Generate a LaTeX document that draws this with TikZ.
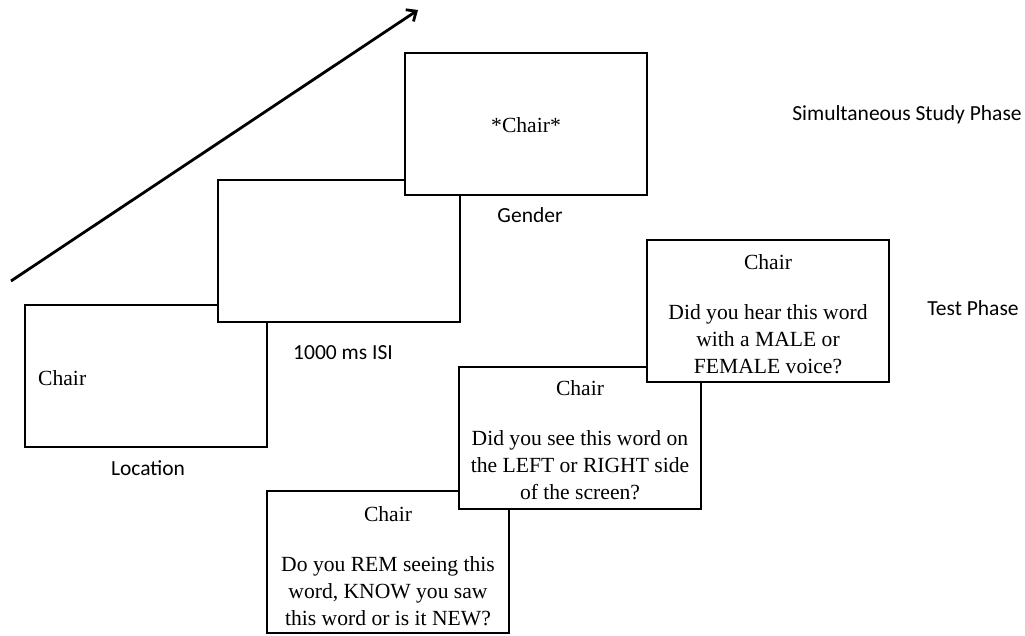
\documentclass[tikz,border=0pt]{standalone}
\usepackage{fontspec}
\setmainfont{Liberation Serif}
\newfontfamily\calib{Carlito}
\usetikzlibrary{arrows.meta}
\begin{document}
\begin{tikzpicture}[x=1pt,y=-1pt,
  screen/.style={draw=black,line width=1.5pt,fill=white,anchor=north west,
    minimum width=242pt,minimum height=142pt,inner sep=0pt,outer sep=0pt},
  serif/.style={font=\fontsize{21.6}{27}\selectfont,inner sep=0pt,align=center},
  sans/.style={font=\calib\fontsize{21.5}{25}\selectfont,inner sep=0pt}]
\useasboundingbox (0,0) rectangle (1025,636);
% study phase screens
\node[screen] (boxA) at (25,305) {};
\node[screen] (boxB) at (218,180) {};
\node[screen] (boxC) at (405,53) {};
% test phase screens
\node[screen] (boxF) at (267,491) {};
\node[screen] (boxE) at (459,367) {};
\node[screen] (boxD) at (647,240) {};
% arrow
\coordinate (arrS) at (11,281);
\coordinate (arrE) at (418,10);
\draw[line width=2.8pt,-{Straight Barb[length=8pt,width=14pt]}] (arrS) -- (arrE);
% texts in study screens
\node[serif,anchor=west] (tA) at (38,378) {Chair};
\node[serif] (tC) at (526,125) {*Chair*};
% texts in test screens
\node[serif] (tD1) at (768,262) {Chair};
\node[serif] (tD2) at (768,339) {Did you hear this word\\with a MALE or\\FEMALE voice?};
\node[serif] (tE1) at (580,388) {Chair};
\node[serif] (tE2) at (580,465) {Did you see this word on\\the LEFT or RIGHT side\\of the screen?};
\node[serif] (tF1) at (388,514) {Chair};
\node[serif] (tF2) at (388,591) {Do you REM seeing this\\word, KNOW you saw\\this word or is it NEW?};
% labels
\node[sans] (lLoc) at (148,468) {Location};
\node[sans] (lISI) at (343,353) {1000 ms ISI};
\node[sans] (lGen) at (530,215) {Gender};
\node[sans] (lSSP) at (907,115) {Simultaneous Study Phase};
\node[sans] (lTP) at (973,308) {Test Phase};
\end{tikzpicture}
\end{document}
